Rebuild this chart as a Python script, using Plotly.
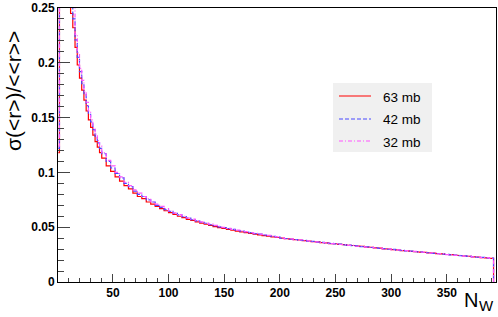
import plotly.graph_objects as go

# bin left edges of N_W
edges = [1] + list(range(2, 40, 2)) + list(range(40, 393, 4))

red_63 = [
    0.118, 0.50, 0.45, 0.38, 0.32, 0.27,
    0.245, 0.232, 0.214, 0.198, 0.186, 0.175, 0.166, 0.156, 0.148, 0.141, 0.134, 0.128, 0.123, 0.118,
    0.113, 0.106, 0.101, 0.096, 0.092, 0.088, 0.085, 0.081, 0.078, 0.076, 0.073, 0.071, 0.069, 0.067, 0.065,
    0.0633, 0.0617, 0.0600, 0.0588, 0.0572, 0.0562, 0.0548, 0.0538, 0.0527, 0.0516, 0.0506, 0.0497, 0.0489,
    0.0481, 0.0472, 0.0465, 0.0457, 0.0450, 0.0444, 0.0437, 0.0430, 0.0424, 0.0418, 0.0412, 0.0406,
    0.0401, 0.0395, 0.0392, 0.0386, 0.0383, 0.0377, 0.0374, 0.0368,
    0.0366, 0.0360, 0.0357, 0.0351, 0.0349, 0.0343, 0.0341, 0.0335,
    0.0333, 0.0327, 0.0325, 0.0319, 0.0317, 0.0311, 0.0309, 0.0303,
    0.0301, 0.0295, 0.0293, 0.0287, 0.0286, 0.0280, 0.0278, 0.0273,
    0.0271, 0.0265, 0.0264, 0.0258, 0.0257, 0.0251, 0.0249, 0.0244,
    0.0242, 0.0237, 0.0235, 0.0230, 0.0228, 0.0223, 0.0221, 0.0216,
    0.0,
]

blue_42 = [
    0.122, 0.52, 0.46, 0.39, 0.33, 0.28,
    0.256, 0.240, 0.221, 0.205, 0.192, 0.181, 0.171, 0.161, 0.153, 0.146, 0.139, 0.133, 0.127, 0.122,
    0.117, 0.110, 0.104, 0.099, 0.095, 0.090, 0.087, 0.083, 0.080, 0.078, 0.075, 0.073, 0.070, 0.068, 0.066,
    0.0645, 0.0626, 0.0612, 0.0596, 0.0583, 0.0570, 0.0558, 0.0545, 0.0536, 0.0524, 0.0515, 0.0503, 0.0497,
    0.0487, 0.0480, 0.0470, 0.0465, 0.0456, 0.0450, 0.0442, 0.0437, 0.0429, 0.0424, 0.0416, 0.0411,
    0.0398, 0.0397, 0.0390, 0.0388, 0.0381, 0.0379, 0.0372, 0.0370,
    0.0364, 0.0362, 0.0355, 0.0353, 0.0347, 0.0345, 0.0339, 0.0337,
    0.0331, 0.0329, 0.0323, 0.0321, 0.0315, 0.0313, 0.0307, 0.0305,
    0.0299, 0.0297, 0.0291, 0.0289, 0.0284, 0.0282, 0.0276, 0.0275,
    0.0269, 0.0267, 0.0262, 0.0260, 0.0255, 0.0253, 0.0247, 0.0246,
    0.0240, 0.0239, 0.0233, 0.0232, 0.0226, 0.0225, 0.0219, 0.0217,
    0.0,
]

pink_32 = [
    0.124, 0.53, 0.47, 0.40, 0.34, 0.29,
    0.262, 0.252, 0.226, 0.209, 0.195, 0.184, 0.174, 0.164, 0.156, 0.148, 0.141, 0.135, 0.129, 0.124,
    0.118, 0.111, 0.106, 0.100, 0.096, 0.091, 0.088, 0.084, 0.081, 0.078, 0.076, 0.073, 0.071, 0.069, 0.067,
    0.0648, 0.0630, 0.0614, 0.0600, 0.0585, 0.0574, 0.0560, 0.0549, 0.0538, 0.0528, 0.0516, 0.0508, 0.0498,
    0.0490, 0.0481, 0.0474, 0.0466, 0.0459, 0.0451, 0.0445, 0.0437, 0.0432, 0.0425, 0.0419, 0.0412,
    0.0402, 0.0394, 0.0393, 0.0385, 0.0384, 0.0376, 0.0375, 0.0367,
    0.0367, 0.0359, 0.0358, 0.0350, 0.0350, 0.0342, 0.0342, 0.0334,
    0.0334, 0.0326, 0.0326, 0.0318, 0.0318, 0.0310, 0.0310, 0.0302,
    0.0302, 0.0294, 0.0294, 0.0286, 0.0287, 0.0279, 0.0279, 0.0272,
    0.0272, 0.0264, 0.0265, 0.0257, 0.0258, 0.0250, 0.0250, 0.0243,
    0.0243, 0.0236, 0.0236, 0.0229, 0.0229, 0.0222, 0.0222, 0.0215,
    0.0,
]

series_names = ["63 mb", "42 mb", "32 mb"]
series_vals = [red_63, blue_42, pink_32]
series_colors = ["#ff0000", "#4848ff", "#ff55ff"]
series_dash = ["solid", "4px,2px", "4px,2px,1px,2px"]

x_ticks = [50, 100, 150, 200, 250, 300, 350]
y_ticks = [0, 0.05, 0.1, 0.15, 0.2, 0.25]
y_tick_labels = ["0", "0.05", "0.1", "0.15", "0.2", "0.25"]

W, H = 498, 317
L, R, T, B = 58, 2, 8, 35
PW, PH = W - L - R, H - T - B


def px(xp):
    return (xp - L) / PW


def py(yp):
    return (H - B - yp) / PH


fig = go.Figure()
for name, vals, color, dash in zip(series_names, series_vals, series_colors, series_dash):
    fig.add_trace(go.Scatter(
        x=edges, y=vals, name=name, mode="lines",
        line=dict(color=color, width=1.2, dash=dash, shape="hv"),
        showlegend=False, hoverinfo="skip",
    ))

tickfont = dict(family="Liberation Sans", size=12, color="black")

shapes = [dict(type="rect", xref="paper", yref="paper",
               x0=px(333), x1=px(432), y0=py(152), y1=py(83),
               fillcolor="#f0f0f0", line=dict(width=0), layer="below")]
annotations = []
rows = [96, 119, 141]
for name, color, dash, yr in zip(series_names, series_colors, series_dash, rows):
    shapes.append(dict(type="line", xref="paper", yref="paper",
                       x0=px(339), x1=px(371), y0=py(yr), y1=py(yr),
                       line=dict(color=color, width=1, dash=dash)))
    annotations.append(dict(text=name, xref="paper", yref="paper",
                            x=px(381), y=py(yr + 1), xanchor="left", yanchor="middle",
                            showarrow=False,
                            font=dict(family="Liberation Sans", size=13.5, color="black")))

annotations += [
    dict(text="σ(&lt;r&gt;)/&lt;&lt;r&gt;&gt;", xref="paper", yref="paper",
         x=px(13), y=py(91), xanchor="center", yanchor="middle",
         textangle=-90, showarrow=False,
         font=dict(family="Liberation Sans", size=21, color="black")),
    dict(text="N", xref="paper", yref="paper",
         x=px(470.5), y=py(300), xanchor="center", yanchor="middle",
         showarrow=False,
         font=dict(family="Liberation Sans", size=20, color="black")),
    dict(text="W", xref="paper", yref="paper",
         x=px(486.5), y=py(306), xanchor="center", yanchor="middle",
         showarrow=False,
         font=dict(family="Liberation Sans", size=15, color="black")),
]

fig.update_layout(
    width=W, height=H,
    margin=dict(l=L, r=R, t=T, b=B),
    plot_bgcolor="white", paper_bgcolor="white",
    showlegend=False,
    xaxis=dict(
        range=[0.7, 394.2],
        tickvals=x_ticks, ticktext=["<b>%d</b>" % v for v in x_ticks],
        ticks="inside", ticklen=8, tickcolor="#444", tickwidth=1,
        minor=dict(dtick=10, tick0=0, ticks="inside", ticklen=4, tickcolor="#444"),
        showline=True, linecolor="black", linewidth=1, mirror=True,
        showgrid=False, zeroline=False, tickfont=tickfont,
    ),
    yaxis=dict(
        range=[0, 0.25],
        tickvals=y_ticks, ticktext=["<b>%s</b>" % s for s in y_tick_labels],
        ticks="inside", ticklen=12, tickcolor="#444", tickwidth=1,
        minor=dict(dtick=0.01, tick0=0, ticks="inside", ticklen=6, tickcolor="#444"),
        showline=True, linecolor="black", linewidth=1, mirror=True,
        showgrid=False, zeroline=False, tickfont=tickfont,
    ),
    shapes=shapes,
    annotations=annotations,
)

fig.write_html(
    "out.html",
    config={"displayModeBar": False},
    post_script="document.body.style.margin='0';document.body.style.overflow='hidden';",
)
